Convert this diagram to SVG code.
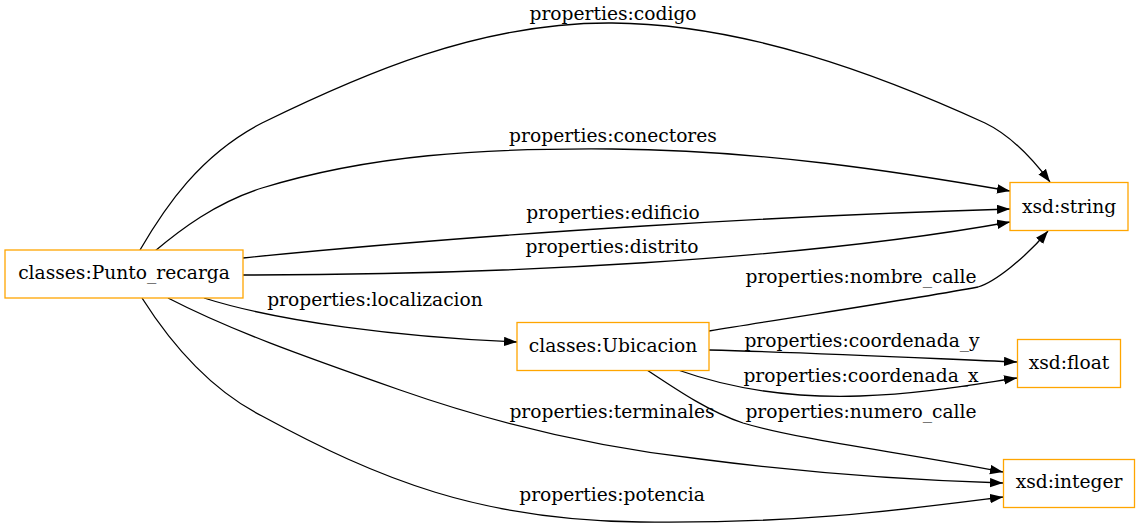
<svg xmlns="http://www.w3.org/2000/svg" width="1140" height="529" viewBox="0 0 1140 529">
<defs>
<marker id="arr" markerUnits="userSpaceOnUse" markerWidth="14" markerHeight="10" refX="13" refY="4.7" orient="auto">
<path d="M0,0 L13,4.7 L0,9.4 z" fill="#000"/>
</marker>
<style>
.node rect{fill:#fff;stroke:#ffa500;stroke-width:1.3}
text{font-family:"DejaVu Serif","Liberation Serif",serif;font-size:18.67px;fill:#000;text-anchor:middle}
.edge path{fill:none;stroke:#000;stroke-width:1.3;marker-end:url(#arr)}
</style>
</defs>
<rect width="1140" height="529" fill="#fff"/>
<g id="connectors" class="edge">
<path d="M140,250 C165,207 200,155 262,123 C360,75 480,22 612,23 C745,24 880,75 985,123 C1010,135 1032,158 1050,182"/>
<path d="M155,251 C180,230 215,203 262,188 C370,155 480,148 612,149 C760,150 900,172 1010,191"/>
<path d="M243,258 C500,232 800,215 1010,209"/>
<path d="M243,275 C500,275 800,260 1010,222"/>
<path d="M204,298 C280,322 400,337 517,342"/>
<path d="M168,298 C230,330 300,355 400,390 C520,432 620,450 700,459 C800,472 900,480 1003,483"/>
<path d="M142,298 C175,350 215,392 262,416 C380,480 480,520 640,522 C800,524 900,510 1003,497"/>
<path d="M709,331 C800,316 920,298 978,287 C995,282 1025,258 1048,231"/>
<path d="M709,350 C820,353 920,358 1017,362"/>
<path d="M678,370 C740,392 800,398 860,396 C920,394 970,385 1017,378"/>
<path d="M647,370 C680,392 710,412 743,423 C800,440 900,452 1003,472"/>
</g>
<g id="edge-labels">
<text x="613" y="20">properties:codigo</text>
<text x="613" y="142">properties:conectores</text>
<text x="613" y="219">properties:edificio</text>
<text x="612" y="253">properties:distrito</text>
<text x="375" y="306">properties:localizacion</text>
<text x="861" y="283">properties:nombre_calle</text>
<text x="862" y="347">properties:coordenada_y</text>
<text x="861" y="382">properties:coordenada_x</text>
<text x="861" y="418">properties:numero_calle</text>
<text x="612" y="418">properties:terminales</text>
<text x="612" y="501">properties:potencia</text>
</g>
<g id="n-punto" class="node"><rect x="5" y="250" width="238" height="48"/><text x="124" y="279">classes:Punto_recarga</text></g>
<g id="n-ubicacion" class="node"><rect x="517" y="322.5" width="192" height="48"/><text x="613" y="352">classes:Ubicacion</text></g>
<g id="n-string" class="node"><rect x="1010" y="182.5" width="118" height="48"/><text x="1069" y="213">xsd:string</text></g>
<g id="n-float" class="node"><rect x="1017.5" y="339.5" width="103" height="48"/><text x="1069" y="369">xsd:float</text></g>
<g id="n-integer" class="node"><rect x="1003.5" y="459.5" width="131" height="48"/><text x="1069" y="488">xsd:integer</text></g>
</svg>
